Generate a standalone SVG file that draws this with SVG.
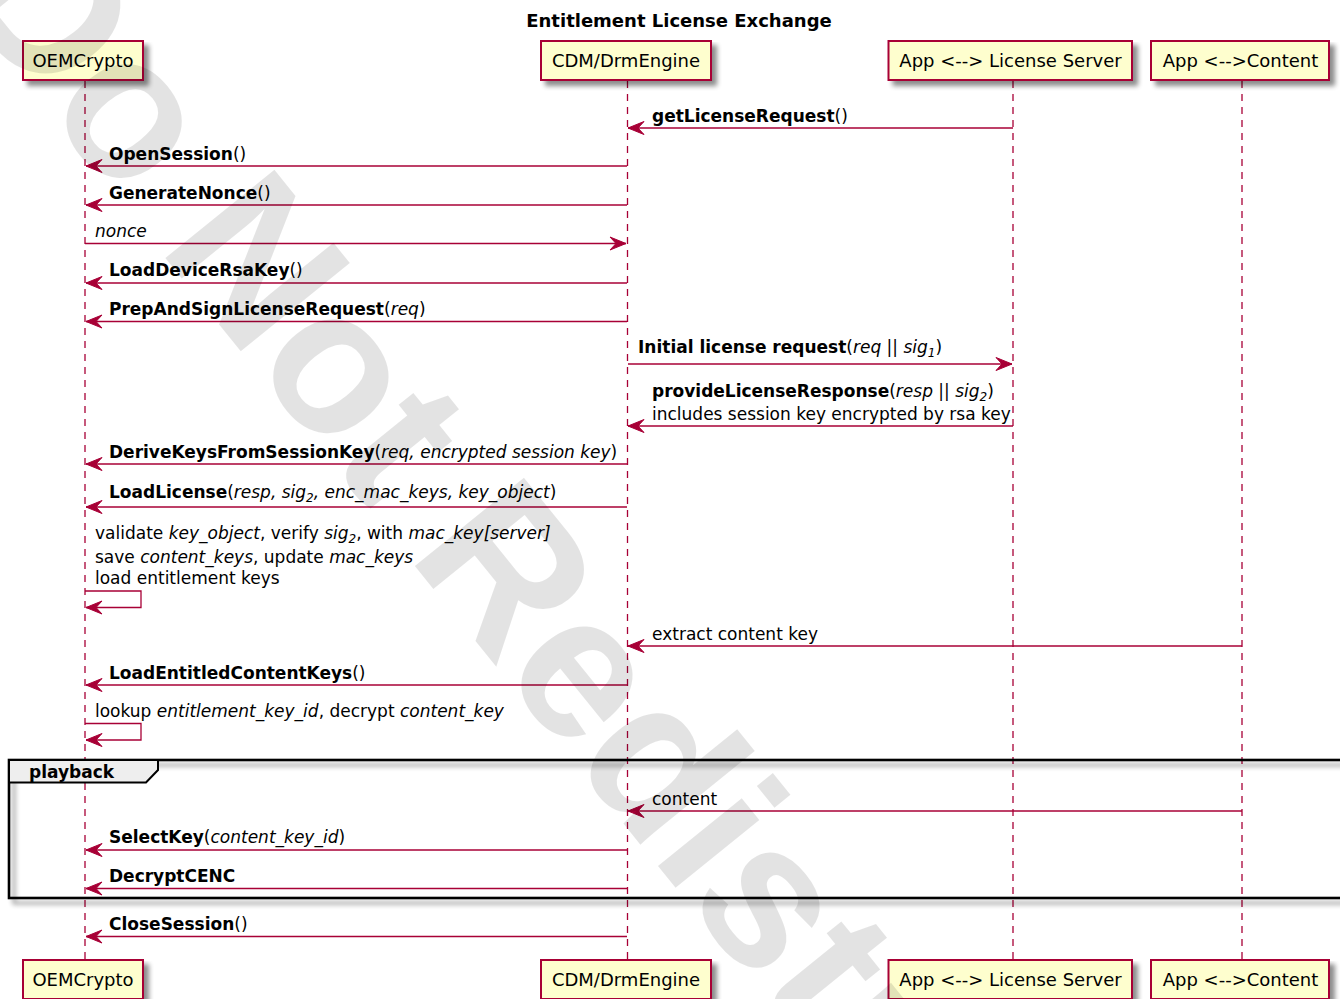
<svg xmlns="http://www.w3.org/2000/svg" width="1340" height="999" viewBox="0 0 1340 999">
<defs>
<filter id="sh" x="-10%" y="-10%" width="130%" height="150%">
<feGaussianBlur in="SourceAlpha" stdDeviation="2.5"/>
<feOffset dx="5" dy="5" result="b"/>
<feComponentTransfer><feFuncA type="linear" slope="0.45"/></feComponentTransfer>
<feMerge><feMergeNode/><feMergeNode in="SourceGraphic"/></feMerge>
</filter>
<marker id="ah" markerUnits="userSpaceOnUse" markerWidth="20" markerHeight="16" viewBox="-17 -8 18 16" refX="0" refY="0" orient="auto">
<path d="M0,0 L-16,-6.5 L-10,0 L-16,6.5 Z" fill="#A80036" stroke="#A80036" stroke-width="1"/>
</marker>
</defs>
<style>
text{font-family:"DejaVu Sans","Liberation Sans",sans-serif;fill:#000}
.t{font-size:18px;font-weight:bold}
.p{font-size:18px}
.m{font-size:17px}
.b{font-weight:bold}
.i{font-style:italic}
.s{font-size:12px;font-style:italic}
.box{fill:#FEFECE;stroke:#A80036;stroke-width:2}
.life{stroke:#A80036;stroke-width:1.3;stroke-dasharray:7,6;fill:none}
.msg{stroke:#A80036;stroke-width:1.3;fill:none;marker-end:url(#ah)}
.wm{font-family:"Liberation Sans",Arial,sans-serif;font-weight:bold;font-size:204px;fill:#000;fill-opacity:0.11}
</style>
<rect width="1340" height="999" fill="#fff"/>
<text class="t" x="679" y="26.5" text-anchor="middle">Entitlement License Exchange</text>

<g id="lifelines">
<line class="life" x1="85" y1="81" x2="85" y2="960"/>
<line class="life" x1="627.5" y1="81" x2="627.5" y2="960"/>
<line class="life" x1="1013" y1="81" x2="1013" y2="960"/>
<line class="life" x1="1242" y1="81" x2="1242" y2="960"/>
</g>

<g id="frame-playback">
<rect x="9" y="760" width="1345" height="138" fill="none" stroke="#000" stroke-width="2.6" filter="url(#sh)"/>
<path d="M9,760 L158,760 L158,770 L146,782.5 L9,782.5 Z" fill="#EEEEEE" stroke="#000" stroke-width="2"/>
<text class="m b" x="29" y="777.5">playback</text>
</g>

<g id="node-oemcrypto-top"><rect class="box" x="23" y="41" width="120" height="39" filter="url(#sh)"/><text class="p" x="83" y="66.5" text-anchor="middle">OEMCrypto</text></g>
<g id="node-cdm-top"><rect class="box" x="541" y="41" width="170" height="39" filter="url(#sh)"/><text class="p" x="626" y="66.5" text-anchor="middle">CDM/DrmEngine</text></g>
<g id="node-ls-top"><rect class="box" x="888.5" y="41" width="243.5" height="39" filter="url(#sh)"/><text class="p" x="1010.5" y="66.5" text-anchor="middle">App &lt;--&gt; License Server</text></g>
<g id="node-content-top"><rect class="box" x="1151" y="41" width="178" height="39" filter="url(#sh)"/><text class="p" x="1240.5" y="66.5" text-anchor="middle">App &lt;--&gt;Content</text></g>

<g id="node-oemcrypto-bottom"><rect class="box" x="23" y="960" width="120" height="39" filter="url(#sh)"/><text class="p" x="83" y="986" text-anchor="middle">OEMCrypto</text></g>
<g id="node-cdm-bottom"><rect class="box" x="541" y="960" width="170" height="39" filter="url(#sh)"/><text class="p" x="626" y="986" text-anchor="middle">CDM/DrmEngine</text></g>
<g id="node-ls-bottom"><rect class="box" x="888.5" y="960" width="243.5" height="39" filter="url(#sh)"/><text class="p" x="1010.5" y="986" text-anchor="middle">App &lt;--&gt; License Server</text></g>
<g id="node-content-bottom"><rect class="box" x="1151" y="960" width="178" height="39" filter="url(#sh)"/><text class="p" x="1240.5" y="986" text-anchor="middle">App &lt;--&gt;Content</text></g>

<g id="connectors">
<line class="msg" x1="1013" y1="128" x2="628" y2="128"/>
<line class="msg" x1="627" y1="166" x2="86" y2="166"/>
<line class="msg" x1="627" y1="205" x2="86" y2="205"/>
<line class="msg" x1="85" y1="243.5" x2="626" y2="243.5"/>
<line class="msg" x1="627" y1="283" x2="86" y2="283"/>
<line class="msg" x1="627" y1="321.5" x2="86" y2="321.5"/>
<line class="msg" x1="628" y1="364" x2="1012" y2="364"/>
<line class="msg" x1="1013" y1="426" x2="628" y2="426"/>
<line class="msg" x1="627" y1="464" x2="86" y2="464"/>
<line class="msg" x1="627" y1="507" x2="86" y2="507"/>
<polyline class="msg" points="85,591 141,591 141,607.5 86,607.5"/>
<line class="msg" x1="1242" y1="646" x2="628" y2="646"/>
<line class="msg" x1="627" y1="685" x2="86" y2="685"/>
<polyline class="msg" points="85,723.5 141,723.5 141,740 86,740"/>
<line class="msg" x1="1242" y1="811" x2="628" y2="811"/>
<line class="msg" x1="627" y1="850" x2="86" y2="850"/>
<line class="msg" x1="627" y1="888.5" x2="86" y2="888.5"/>
<line class="msg" x1="627" y1="936.5" x2="86" y2="936.5"/>
</g>

<g id="labels" class="m">
<text class="m" x="652" y="122"><tspan class="b">getLicenseRequest</tspan>()</text>
<text class="m" x="109" y="160"><tspan class="b">OpenSession</tspan>()</text>
<text class="m" x="109" y="198.5"><tspan class="b">GenerateNonce</tspan>()</text>
<text class="m i" x="95" y="237">nonce</text>
<text class="m" x="109" y="276"><tspan class="b">LoadDeviceRsaKey</tspan>()</text>
<text class="m" x="109" y="314.5"><tspan class="b">PrepAndSignLicenseRequest</tspan>(<tspan class="i">req</tspan>)</text>
<text class="m" x="638" y="353"><tspan class="b">Initial license request</tspan>(<tspan class="i">req</tspan> || <tspan class="i">sig</tspan><tspan class="s" dy="4">1</tspan><tspan dy="-4">)</tspan></text>
<text class="m" x="652" y="397"><tspan class="b">provideLicenseResponse</tspan>(<tspan class="i">resp</tspan> || <tspan class="i">sig</tspan><tspan class="s" dy="4">2</tspan><tspan dy="-4">)</tspan></text>
<text class="m" x="652" y="420">includes session key encrypted by rsa key</text>
<text class="m" x="109" y="458"><tspan class="b">DeriveKeysFromSessionKey</tspan>(<tspan class="i">req, encrypted session key</tspan>)</text>
<text class="m" x="109" y="497.5"><tspan class="b">LoadLicense</tspan>(<tspan class="i">resp, sig</tspan><tspan class="s" dy="4">2</tspan><tspan class="i" dy="-4">, enc_mac_keys, key_object</tspan>)</text>
<text class="m" x="95" y="539">validate <tspan class="i">key_object</tspan>, verify <tspan class="i">sig</tspan><tspan class="s" dy="4">2</tspan><tspan dy="-4">, with </tspan><tspan class="i">mac_key[server]</tspan></text>
<text class="m" x="95" y="563">save <tspan class="i">content_keys</tspan>, update <tspan class="i">mac_keys</tspan></text>
<text class="m" x="95" y="583.5">load entitlement keys</text>
<text class="m" x="652" y="640">extract content key</text>
<text class="m" x="109" y="678.5"><tspan class="b">LoadEntitledContentKeys</tspan>()</text>
<text class="m" x="95" y="717"><tspan>lookup </tspan><tspan class="i">entitlement_key_id</tspan>, decrypt <tspan class="i">content_key</tspan></text>
<text class="m" x="652" y="805">content</text>
<text class="m" x="109" y="843"><tspan class="b">SelectKey</tspan>(<tspan class="i">content_key_id</tspan>)</text>
<text class="m b" x="109" y="881.5">DecryptCENC</text>
<text class="m" x="109" y="929.5"><tspan class="b">CloseSession</tspan>()</text>
</g>

<text class="wm" transform="translate(-50,-8) rotate(51)">Do Not Redistribute</text>
</svg>
